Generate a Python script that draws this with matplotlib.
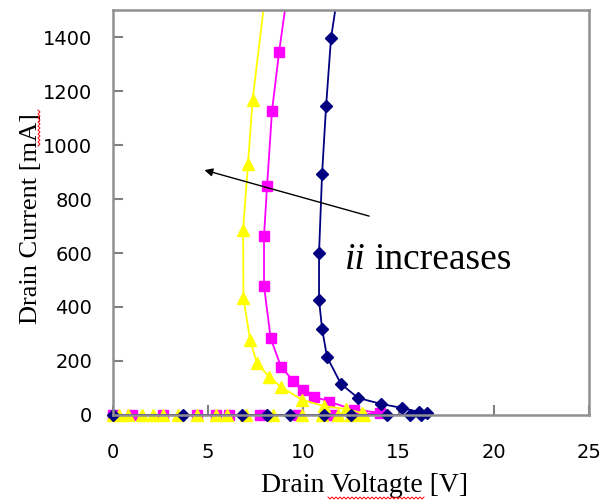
import numpy as np
import matplotlib
matplotlib.use("Agg")
import matplotlib.pyplot as plt
from matplotlib.lines import Line2D

# navy diamonds: sweep at ~0 mA, then snapback branch
Navy_V = [0, 3.7, 6.8, 8.1, 9.3, 11.1, 12.5, 14.4, 15.6, 16.2, 16.5,
          16.07, 15.18, 14.08, 12.87, 11.97, 11.24, 10.98, 10.82, 10.82, 10.98, 11.19, 11.45, 11.8]
Navy_I = [0, 0, 0, 0, 0, 0, 0, 0, 0, 0, 7,
          11, 26, 41, 63, 115, 215, 319, 426, 600, 893, 1144, 1396, 1560]

# magenta squares
Mag_V = [0, 1.0, 2.6, 4.4, 5.4, 6.1, 7.7, 9.7, 11.5, 13.0, 14.0,
         12.67, 11.36, 10.57, 10.0, 9.47, 8.82, 8.28, 7.93, 7.93, 8.09, 8.35, 8.72, 9.15]
Mag_I = [0, 0, 0, 0, 0, 0, 0, 0, 0, 0, 9,
         19, 49, 68, 93, 126, 179, 284, 478, 663, 848, 1126, 1344, 1560]

# yellow triangles
Yel_V = [0, 0.3, 0.8, 1.5, 2.1, 2.6, 3.4, 4.4, 5.4, 6.0, 7.0, 8.4, 9.9, 11.0, 11.8, 12.5, 13.2,
         13.1, 12.24, 11.08, 9.93, 8.82, 8.2, 7.55, 7.2, 6.85, 6.83, 7.09, 7.33, 8.0]
Yel_I = [0, 0, 0, 0, 0, 0, 0, 0, 0, 0, 0, 0, 0, 0, 0, 0, 0,
         7, 22, 33, 56, 104, 141, 193, 278, 432, 687, 930, 1167, 1560]

fig = plt.figure(figsize=(6.11, 5.03), dpi=100)
ax = fig.add_axes([0.185, 0.175, 0.779, 0.805])

series = [(Mag_V, Mag_I, '#FF00FF', 's', 7),
          (Yel_V, Yel_I, '#FFFF00', '^', 8.5),
          (Navy_V, Navy_I, '#000080', 'D', 6)]
for v, i, c, m, ms in series:
    ax.plot(v, i, c=c, lw=1.3)
    # last point only carries the line past the top, no marker
    ax.plot(v[:-1], i[:-1], ls='none', marker=m, ms=ms, c=c, clip_on=False)

ax.annotate('', xy=(4.66, 910), xytext=(13.59, 734),
            arrowprops=dict(arrowstyle='-|>', color='black', lw=1, mutation_scale=12))
ax.text(12.18, 541, 'ii', fontsize=27, family='Liberation Serif', style='italic')
ax.text(13.71, 541, 'increases', fontsize=27, family='Liberation Serif')

ax.set_xlim(0, 25)
ax.set_ylim(0, 1500)
ax.set_xticks([0, 5, 10, 15, 20, 25])
ax.set_yticks(range(0, 1401, 200))
ax.tick_params(axis='both', direction='in', color='#808080', width=1.5, length=7,
               labelsize=14)
ax.tick_params(axis='y', pad=15)
ax.tick_params(axis='x', pad=20)
for s in ax.spines.values():
    s.set_color('#909090')
    s.set_linewidth(1.8)

ax.set_xlabel('Drain Voltagte [V]', fontsize=20, family='Liberation Serif')
ax.set_ylabel('Drain Current [mA]', fontsize=19, family='Liberation Serif')
ax.xaxis.set_label_coords(0.529, -0.143)
ax.yaxis.set_label_coords(-0.149, 0.485)

# spell-check squiggles under "Voltagte" and "mA"
W, H = 611, 503
xs = np.arange(328, 426, 2)
ys = 498 + np.where(np.arange(len(xs)) % 2 == 0, -1, 1)
fig.add_artist(Line2D(xs / W, 1 - ys / H, color='red', lw=0.7))
ys2 = np.arange(110, 148, 2)
xs2 = 39 + np.where(np.arange(len(ys2)) % 2 == 0, -1, 1)
fig.add_artist(Line2D(xs2 / W, 1 - ys2 / H, color='red', lw=0.7))

fig.savefig('out.png', dpi=100)
